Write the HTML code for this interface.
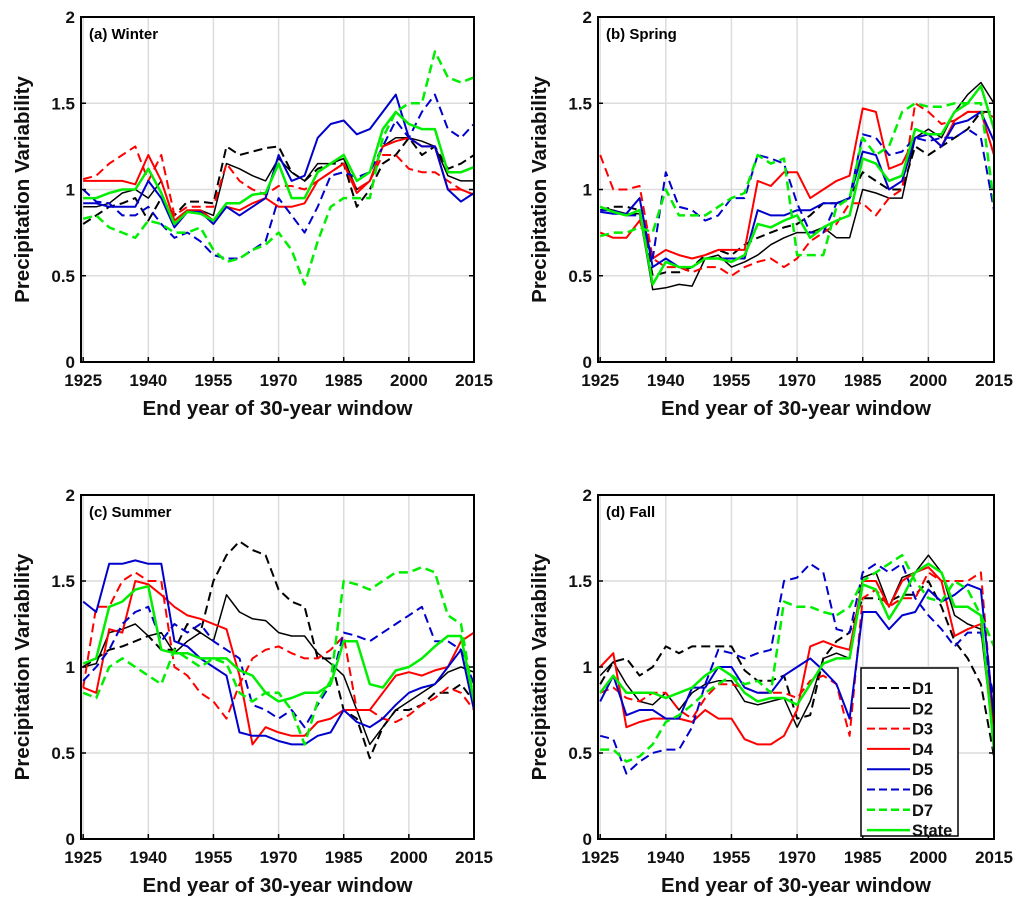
<!DOCTYPE html>
<html><head><meta charset="utf-8"><style>
html,body{margin:0;padding:0;background:#fff;}
svg{display:block;font-family:"Liberation Sans",Arial,sans-serif;}
</style></head><body>
<svg id="fig" width="1024" height="906" viewBox="0 0 1024 906" xmlns="http://www.w3.org/2000/svg"></svg>
<script>
const years = [1925,1928,1931,1934,1937,1940,1943,1946,1949,1952,1955,1958,1961,1964,1967,1970,1973,1976,1979,1982,1985,1988,1991,1994,1997,2000,2003,2006,2009,2012,2015];
const xTicks = [1925,1940,1955,1970,1985,2000,2015];
const yTicks = [0,0.5,1,1.5,2];
const yTickLabels = ["0","0.5","1","1.5","2"];
const seriesNames = ["D1","D2","D3","D4","D5","D6","D7","State"];
const panelTitles = ["(a) Winter","(b) Spring","(c) Summer","(d) Fall"];

const winterD1 = [0.8,0.85,0.9,0.92,0.95,0.82,0.95,0.85,0.93,0.93,0.92,1.25,1.2,1.22,1.24,1.25,1.1,1.05,1.12,1.15,1.15,0.9,1.0,1.15,1.2,1.3,1.2,1.25,1.12,1.15,1.2];
const winterD2 = [0.9,0.9,0.92,0.98,1.0,0.95,1.05,0.82,0.88,0.88,0.85,1.15,1.12,1.08,1.05,1.18,1.1,1.05,1.15,1.15,1.18,1.0,1.05,1.25,1.3,1.3,1.28,1.25,1.08,1.05,1.05];
const winterD3 = [1.06,1.08,1.15,1.2,1.25,1.05,1.2,0.85,0.9,0.9,0.9,1.15,1.05,1.0,0.97,1.02,1.02,1.0,1.05,1.1,1.15,1.0,1.05,1.2,1.2,1.12,1.1,1.1,1.05,1.0,0.97];
const winterD4 = [1.05,1.05,1.05,1.05,1.03,1.2,1.05,0.82,0.88,0.88,0.82,0.9,0.88,0.92,0.95,0.9,0.9,0.92,1.05,1.1,1.15,0.98,1.05,1.25,1.28,1.3,1.25,1.25,1.0,1.0,0.97];
const winterD5 = [0.92,0.92,0.9,0.9,0.9,1.05,0.95,0.78,0.87,0.87,0.8,0.9,0.85,0.9,0.95,1.2,1.05,1.08,1.3,1.38,1.4,1.32,1.35,1.45,1.55,1.3,1.25,1.25,1.0,0.93,0.98];
const winterD6 = [1.0,0.93,0.92,0.85,0.85,0.9,0.8,0.72,0.75,0.7,0.62,0.6,0.6,0.65,0.7,0.95,0.85,0.75,0.9,1.08,1.1,1.07,1.1,1.25,1.4,1.3,1.45,1.55,1.35,1.3,1.38];
const winterD7 = [0.83,0.85,0.78,0.75,0.72,0.82,0.8,0.75,0.75,0.78,0.65,0.58,0.6,0.65,0.68,0.75,0.65,0.45,0.7,0.9,0.95,0.95,0.95,1.3,1.45,1.5,1.5,1.8,1.65,1.62,1.65];
const winterState = [0.95,0.95,0.98,1.0,1.0,1.12,0.98,0.8,0.87,0.86,0.82,0.92,0.92,0.97,0.98,1.15,0.95,0.95,1.1,1.15,1.2,1.05,1.1,1.35,1.45,1.38,1.35,1.35,1.1,1.1,1.13];

const springD1 = [0.88,0.9,0.9,0.88,0.5,0.52,0.52,0.55,0.62,0.65,0.62,0.68,0.72,0.75,0.78,0.8,0.85,0.92,0.92,0.95,1.1,1.05,1.0,1.0,1.25,1.2,1.25,1.3,1.35,1.45,1.45];
const springD2 = [0.9,0.88,0.86,0.86,0.42,0.43,0.45,0.44,0.6,0.62,0.55,0.58,0.62,0.68,0.72,0.75,0.75,0.78,0.72,0.72,1.0,0.98,0.95,0.95,1.3,1.35,1.3,1.45,1.55,1.62,1.5];
const springD3 = [1.2,1.0,1.0,1.02,0.6,0.55,0.55,0.52,0.55,0.55,0.5,0.55,0.58,0.6,0.55,0.6,0.7,0.75,0.8,0.92,0.92,0.85,0.95,1.0,1.5,1.45,1.38,1.4,1.45,1.45,1.42];
const springD4 = [0.75,0.72,0.72,0.82,0.6,0.65,0.62,0.6,0.62,0.65,0.65,0.65,1.05,1.02,1.1,1.1,0.95,1.0,1.05,1.08,1.47,1.45,1.12,1.15,1.3,1.32,1.25,1.4,1.45,1.45,1.2];
const springD5 = [0.87,0.86,0.86,0.95,0.55,0.6,0.55,0.55,0.6,0.6,0.6,0.6,0.88,0.85,0.85,0.88,0.88,0.92,0.92,0.95,1.22,1.2,1.0,1.05,1.3,1.32,1.25,1.38,1.4,1.45,1.28];
const springD6 = [0.88,0.88,0.85,0.85,0.6,1.1,0.9,0.88,0.82,0.85,0.95,0.95,1.2,1.18,1.15,0.92,0.75,0.75,0.92,0.95,1.32,1.3,1.2,1.22,1.3,1.28,1.3,1.3,1.35,1.3,0.88];
const springD7 = [0.73,0.75,0.75,0.78,0.75,1.0,0.85,0.85,0.85,0.9,0.95,0.98,1.2,1.15,1.18,0.62,0.62,0.62,0.9,0.95,1.3,1.2,1.25,1.45,1.5,1.48,1.48,1.5,1.5,1.5,0.92];
const springState = [0.9,0.87,0.85,0.88,0.45,0.58,0.55,0.55,0.6,0.6,0.58,0.62,0.8,0.78,0.82,0.85,0.72,0.78,0.82,0.85,1.18,1.15,1.05,1.08,1.35,1.32,1.32,1.45,1.5,1.6,1.35];

const summerD1 = [1.0,1.05,1.1,1.12,1.15,1.18,1.1,1.1,1.25,1.2,1.5,1.65,1.73,1.68,1.65,1.45,1.38,1.35,1.05,1.05,0.75,0.7,0.47,0.65,0.75,0.75,0.78,0.85,0.85,0.9,0.8];
const summerD2 = [1.0,1.02,1.2,1.22,1.25,1.18,1.2,1.08,1.15,1.2,1.15,1.42,1.32,1.28,1.27,1.2,1.18,1.18,1.08,1.02,0.95,0.75,0.55,0.65,0.75,0.8,0.85,0.9,0.97,1.0,0.97];
const summerD3 = [0.88,1.35,1.35,1.5,1.55,1.5,1.5,1.0,0.95,0.85,0.8,0.7,0.9,1.05,1.1,1.12,1.08,1.05,1.05,1.1,1.18,0.75,0.75,0.7,0.68,0.72,0.78,0.82,0.88,0.85,0.75];
const summerD4 = [0.88,0.85,1.22,1.2,1.5,1.48,1.42,1.35,1.3,1.28,1.25,1.22,0.95,0.55,0.65,0.62,0.6,0.6,0.68,0.7,0.75,0.75,0.75,0.85,0.95,0.97,0.95,0.98,1.0,1.15,1.2];
const summerD5 = [1.38,1.32,1.6,1.6,1.62,1.6,1.6,1.15,1.12,1.05,1.0,0.95,0.62,0.6,0.6,0.57,0.55,0.55,0.6,0.62,0.75,0.68,0.65,0.7,0.78,0.85,0.88,0.9,1.0,1.1,0.75];
const summerD6 = [0.92,1.0,1.1,1.25,1.32,1.35,1.15,1.25,1.2,1.25,1.15,1.1,1.05,0.78,0.75,0.7,0.75,0.65,0.78,0.9,1.2,1.18,1.15,1.2,1.25,1.3,1.35,1.15,1.15,1.1,0.9];
const summerD7 = [0.85,0.82,1.0,1.05,1.0,0.95,0.9,1.1,1.05,1.0,1.05,1.02,0.85,0.8,0.85,0.85,0.75,0.55,0.8,0.92,1.5,1.48,1.45,1.5,1.55,1.55,1.58,1.55,1.3,1.25,0.8];
const summerState = [1.02,1.05,1.35,1.38,1.45,1.47,1.1,1.08,1.08,1.05,1.05,1.05,0.98,0.95,0.85,0.8,0.82,0.85,0.85,0.9,1.15,1.15,0.9,0.88,0.98,1.0,1.05,1.12,1.18,1.18,0.8];

const fallD1 = [0.9,1.03,1.05,0.95,1.0,1.12,1.08,1.12,1.12,1.12,1.12,0.98,0.92,0.92,0.95,0.7,0.72,1.05,1.15,1.2,1.4,1.4,1.38,1.42,1.42,1.5,1.35,1.15,1.05,0.9,0.48];
const fallD2 = [0.95,1.03,0.9,0.8,0.78,0.85,0.75,0.85,0.9,0.92,0.92,0.8,0.78,0.8,0.82,0.65,0.8,1.05,1.08,1.05,1.52,1.55,1.35,1.52,1.55,1.65,1.55,1.3,1.25,1.22,0.55];
const fallD3 = [0.85,0.88,0.82,0.8,0.85,0.85,0.75,0.7,0.82,0.9,0.9,0.88,0.85,0.85,0.85,0.82,0.92,0.95,0.9,0.6,1.4,1.45,1.35,1.4,1.4,1.55,1.5,1.5,1.5,1.55,0.65];
const fallD4 = [1.0,1.08,0.65,0.68,0.7,0.7,0.7,0.68,0.75,0.7,0.7,0.58,0.55,0.55,0.6,0.75,1.12,1.15,1.12,1.1,1.5,1.5,1.35,1.5,1.55,1.58,1.5,1.18,1.22,1.25,0.65];
const fallD5 = [0.8,0.95,0.72,0.75,0.75,0.7,0.7,0.88,0.88,1.0,1.0,0.88,0.85,0.85,0.95,1.0,1.05,0.98,0.9,0.7,1.32,1.32,1.22,1.3,1.32,1.45,1.38,1.42,1.48,1.45,0.7];
const fallD6 = [0.6,0.58,0.38,0.45,0.5,0.52,0.52,0.65,0.9,1.1,1.08,1.05,1.08,1.1,1.5,1.52,1.6,1.55,1.22,1.2,1.55,1.6,1.55,1.6,1.4,1.3,1.22,1.12,1.2,1.2,0.82];
const fallD7 = [0.52,0.52,0.45,0.48,0.55,0.68,0.72,0.78,0.85,0.9,0.95,0.9,0.92,0.85,1.38,1.35,1.35,1.32,1.3,1.35,1.5,1.55,1.6,1.65,1.5,1.4,1.38,1.5,1.45,1.3,1.12];
const fallState = [0.85,0.95,0.85,0.85,0.85,0.82,0.85,0.88,0.95,1.0,0.95,0.85,0.8,0.82,0.82,0.78,0.9,1.02,1.05,1.05,1.48,1.45,1.28,1.4,1.55,1.6,1.55,1.35,1.35,1.3,0.52];

const panelData = [
  [winterD1,winterD2,winterD3,winterD4,winterD5,winterD6,winterD7,winterState],
  [springD1,springD2,springD3,springD4,springD5,springD6,springD7,springState],
  [summerD1,summerD2,summerD3,summerD4,summerD5,summerD6,summerD7,summerState],
  [fallD1,fallD2,fallD3,fallD4,fallD5,fallD6,fallD7,fallState]
];
const seriesColor = ["#000","#000","#f00","#f00","#00c","#00c","#0e0","#0e0"];
const seriesDash = [true,false,true,false,false,true,true,false];
const seriesWidth = [2,1.5,2,2,2,2,2.5,2.5];

const NS="http://www.w3.org/2000/svg";
const svg=document.getElementById('fig');
function mk(tag,attrs,parent){const e=document.createElementNS(NS,tag);for(const k in attrs)e.setAttribute(k,attrs[k]);(parent||svg).appendChild(e);return e;}

const panels=[{l:81,r:474,t:17,b:362},{l:598,r:994,t:17,b:362},{l:81,r:474,t:495,b:839},{l:598,r:994,t:495,b:839}];
const X0=1924.5,X1=2015,Y0=0,Y1=2;
const panelNames=["winter","spring","summer","fall"];

panels.forEach((p,pi)=>{
  const g=mk('g',{});
  
  
  const xs=v=>p.l+(v-X0)/(X1-X0)*(p.r-p.l);
  const ys=v=>p.b-(v-Y0)/(Y1-Y0)*(p.b-p.t);
  xTicks.forEach(t=>{const ln=mk('line',{x1:xs(t),x2:xs(t),y1:p.t,y2:p.b,stroke:'#dcdcdc','stroke-width':1.5},g);
    
    });
  yTicks.forEach(t=>{const ln=mk('line',{x1:p.l,x2:p.r,y1:ys(t),y2:ys(t),stroke:'#dcdcdc','stroke-width':1.5},g);
    
    });
  const clipId='clip'+pi;
  const cp=mk('clipPath',{id:clipId},g);mk('rect',{x:p.l,y:p.t,width:p.r-p.l,height:p.b-p.t},cp);
  panelData[pi].forEach((vals,si)=>{
    const d=vals.map((v,i)=>(i?'L':'M')+xs(years[i]).toFixed(1)+','+ys(v).toFixed(1)).join('');
    const a={d:d,fill:'none',stroke:seriesColor[si],'stroke-width':seriesWidth[si],'stroke-linejoin':'round','clip-path':'url(#'+clipId+')'};
    if(seriesDash[si])a['stroke-dasharray']='9 5';
    const path=mk('path',a,g);
    
    
  });
  const fr=mk('rect',{x:p.l,y:p.t,width:p.r-p.l,height:p.b-p.t,fill:'none',stroke:'#000','stroke-width':2},g);
  
  
  yTicks.forEach((t,i)=>{
    mk('line',{x1:p.l,x2:p.l+5,y1:ys(t),y2:ys(t),stroke:'#000','stroke-width':1.5},g);
    mk('line',{x1:p.r,x2:p.r-5,y1:ys(t),y2:ys(t),stroke:'#000','stroke-width':1.5},g);
    const tx=mk('text',{x:p.l-6,y:ys(t)+6,'text-anchor':'end','font-size':17,'font-weight':'bold',fill:'#111'},g);
    tx.textContent=yTickLabels[i];
    
    
  });
  xTicks.forEach(t=>{
    mk('line',{x1:xs(t),x2:xs(t),y1:p.b,y2:p.b-5,stroke:'#000','stroke-width':1.5},g);
    const tx=mk('text',{x:xs(t),y:p.b+24,'text-anchor':'middle','font-size':17,'font-weight':'bold',fill:'#111'},g);
    tx.textContent=String(t);
    
    
  });
  const xl=mk('text',{x:(p.l+p.r)/2,y:p.b+53,'text-anchor':'middle','font-size':20.5,'font-weight':'bold',fill:'#111'},g);
  xl.textContent='End year of 30-year window';
  
  
  const cy=(p.t+p.b)/2;
  const yx=p.l-52;
  const yl=mk('text',{x:yx,y:cy,'text-anchor':'middle','font-size':20.5,'font-weight':'bold',fill:'#111',transform:'rotate(-90 '+yx+' '+cy+')'},g);
  yl.textContent='Precipitation Variability';
  
  
  const tt=mk('text',{x:p.l+8,y:p.t+22,'font-size':15,'font-weight':'bold',fill:'#000'},g);
  tt.textContent=panelTitles[pi];
  
  
});

const lg=mk('g',{});


mk('rect',{x:861,y:668,width:97,height:168,fill:'#fff',stroke:'#000','stroke-width':1.5},lg);
seriesNames.forEach((n,si)=>{
  const y=688+si*20.3;
  const ent=mk('g',{},lg);
  
  
  const a={x1:867,x2:910,y1:y,y2:y,stroke:seriesColor[si],'stroke-width':seriesWidth[si]};
  if(seriesDash[si])a['stroke-dasharray']='8 4';
  mk('line',a,ent);
  const tx=mk('text',{x:912,y:y+6,'font-size':16.5,'font-weight':'bold',fill:'#111'},ent);
  tx.textContent=n;
});
</script>
</body></html>
